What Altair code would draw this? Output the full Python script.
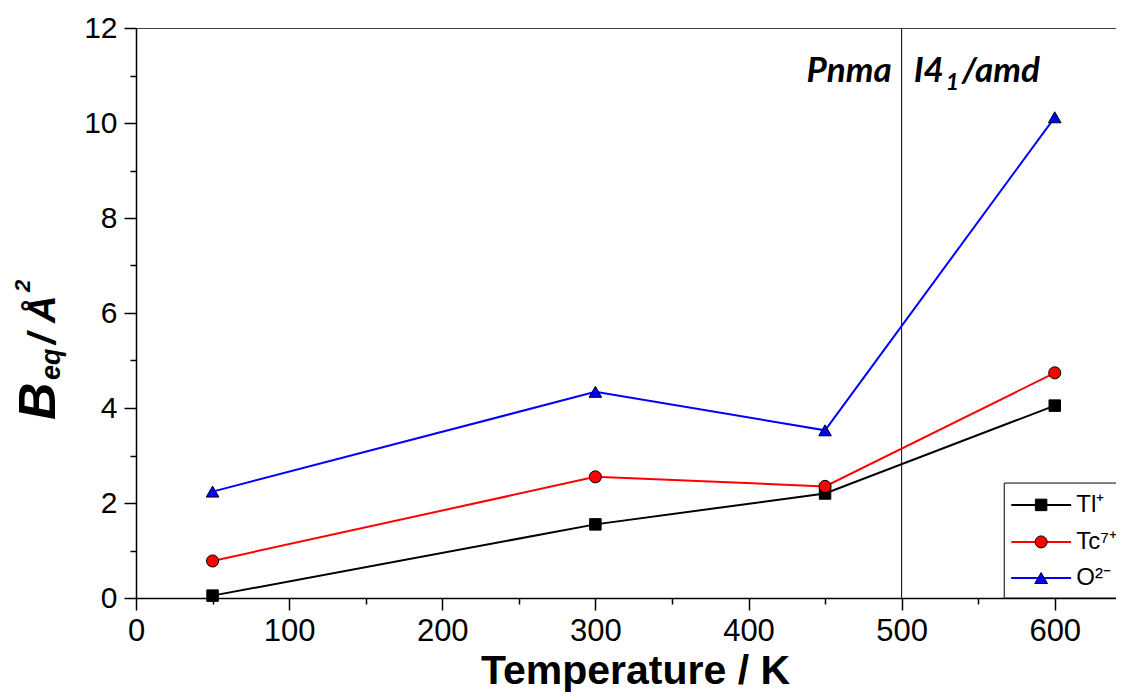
import altair as alt
import pandas as pd

# ---- data ----
temps = [50, 300, 450, 600]
tl_vals = [0.05, 1.55, 2.20, 4.05]
tc_vals = [0.78, 2.55, 2.35, 4.74]
o_vals = [2.24, 4.34, 3.53, 10.12]
series = ["Tl⁺", "Tc⁷⁺", "O²⁻"]
colors = ["#000000", "#ff0000", "#0000ff"]
shapes = ["square", "circle", "triangle-up"]
sizes = [132, 160, 250]

x_ticks = list(range(0, 601, 50))
y_ticks = list(range(0, 13))
phase_boundary = [500]
phase_left = ["Pnma"]
phase_right = ["I4", "1", "/amd"]
legend_rows = [1.96, 1.18, 0.42]
ytitle_parts = ["B", "eq", "/ Å", "2"]

# ---- tables ----
rows = []
for i, (s, vals) in enumerate(zip(series, [tl_vals, tc_vals, o_vals])):
    for t, v in zip(temps, vals):
        rows.append({"series": s, "T": t, "B": v, "idx": i})
df = pd.DataFrame(rows)

leg = pd.DataFrame({"series": series, "ly": legend_rows})
leg["x0"] = 571.6
leg["x1"] = 610.7
leg["xm"] = 591.1
leg["xt"] = 614.1

xs = alt.Scale(domain=[0, 640], nice=False, zero=False)
ys = alt.Scale(domain=[0, 12], nice=False)
cs = alt.Scale(domain=series, range=colors)

xaxis = alt.Axis(
    values=x_ticks,
    labelExpr="datum.value % 100 === 0 ? datum.label : ''",
    tickSize={"condition": {"test": "datum.value % 100 === 0", "value": 12}, "value": 6},
    title="Temperature / K",
    titleX=499, titleY=85, titleAlign="center", titleBaseline="alphabetic",
    titleFontSize=41, labelFontSize=31, labelPadding=6,
)
yaxis = alt.Axis(
    values=y_ticks,
    labelExpr="datum.value % 2 === 0 ? datum.label : ''",
    tickSize={"condition": {"test": "datum.value % 2 === 0", "value": 12}, "value": 6},
    title="",
    labelFontSize=30, labelPadding=7,
)

def X(field):
    return alt.X(field, type="quantitative", scale=xs, axis=xaxis)

def Y(field):
    return alt.Y(field, type="quantitative", scale=ys, axis=yaxis)

base = alt.Chart(df)

lines = base.mark_line(strokeWidth=2).encode(
    x=X("T"), y=Y("B"),
    color=alt.Color("series:N", scale=cs, legend=None),
    detail="idx:N",
)

points = base.mark_point(filled=True, stroke="black", strokeWidth=1, opacity=1, fillOpacity=1).encode(
    x=X("T"), y=Y("B"),
    fill=alt.Fill("series:N", scale=cs, legend=None),
    shape=alt.Shape("series:N", scale=alt.Scale(domain=series, range=shapes), legend=None),
    size=alt.Size("series:O", scale=alt.Scale(domain=series, range=sizes), legend=None),
    order=alt.Order("idx:Q"),
)

pb = pd.DataFrame({"x": phase_boundary})
vline = alt.Chart(pb).mark_rule(color="black", strokeWidth=1).encode(
    x=X("x"), y=alt.Y(datum=0, type="quantitative", scale=ys, axis=yaxis), y2=alt.datum(12)
)
topline = alt.Chart(pb).mark_rule(color="black", strokeWidth=1.5, clip=True).encode(
    x=alt.X(datum=0, type="quantitative", scale=xs, axis=xaxis), x2=alt.datum(700),
    y=alt.Y(datum=12, type="quantitative", scale=ys, axis=yaxis),
)

ann_left = alt.Chart(pd.DataFrame({"x": phase_boundary, "t": phase_left})).mark_text(
    font="Lato", fontSize=35, fontStyle="italic", fontWeight="bold", align="right",
    baseline="alphabetic", dx=-10, color="black",
).encode(x=X("x"), y=alt.Y(datum=10.86, type="quantitative", scale=ys, axis=yaxis), text="t:N")

ann_r = []
for txt, dx, dy, fs in zip(phase_right, [12, 44, 60], [0, 8, 0], [35, 23, 35]):
    ann_r.append(
        alt.Chart(pd.DataFrame({"x": phase_boundary, "t": [txt]})).mark_text(
            font="Lato", fontSize=fs, fontStyle="italic", fontWeight="bold", align="left",
            baseline="alphabetic", dx=dx, dy=dy, color="black",
        ).encode(x=X("x"), y=alt.Y(datum=10.86, type="quantitative", scale=ys, axis=yaxis), text="t:N")
    )

# legend box (clipped at the right edge like the reference)
legbox = alt.Chart(pb).mark_rect(fill="white", stroke="black", strokeWidth=1, clip=True).encode(
    x=alt.X(datum=567, type="quantitative", scale=xs, axis=xaxis), x2=alt.datum(700),
    y=alt.Y(datum=0, type="quantitative", scale=ys, axis=yaxis), y2=alt.datum(2.42),
)
legbase = alt.Chart(leg)
leglines = legbase.mark_rule(strokeWidth=2, clip=True).encode(
    x=X("x0"), x2="x1", y=Y("ly"),
    color=alt.Color("series:N", scale=cs, legend=None),
)
legpts = legbase.mark_point(filled=True, stroke="black", strokeWidth=1, opacity=1, fillOpacity=1, clip=True).encode(
    x=X("xm"), y=Y("ly"),
    fill=alt.Fill("series:N", scale=cs, legend=None),
    shape=alt.Shape("series:N", scale=alt.Scale(domain=series, range=shapes), legend=None),
    size=alt.Size("series:O", scale=alt.Scale(domain=series, range=sizes), legend=None),
)
legtext = legbase.mark_text(
    font="Liberation Sans", fontSize=24, align="left", baseline="middle", color="black", clip=True,
).encode(x=X("xt"), y=Y("ly"), text="series:N")

# y-axis title built from pieces (rotated)
yt_pos = [(-81, 392, 52), (-76, 352, 27), (-81, 316, 38), (-106, 264, 22)]
ytitle = []
for part, (px, py, fs) in zip(ytitle_parts, yt_pos):
    ytitle.append(
        alt.Chart(pd.DataFrame({"t": [part]})).mark_text(
            font="Liberation Sans", fontSize=fs, fontWeight="bold", fontStyle="italic",
            angle=270, align="left", baseline="alphabetic", color="black",
        ).encode(x=alt.value(px), y=alt.value(py), text="t:N")
    )

chart = alt.layer(
    vline, topline, lines, points, legbox, leglines, legpts, legtext, ann_left, *ann_r, *ytitle
).properties(
    width=980, height=570,
    autosize=alt.AutoSizeParams(type="none"),
    padding={"left": 128, "top": 20, "right": 0, "bottom": 94},
).configure_view(stroke=None).configure_axis(
    grid=False, domainColor="black", domainWidth=1.5, tickColor="black", tickWidth=1.5,
    labelFont="Liberation Sans", labelColor="black", titleFont="Liberation Sans",
    titleColor="black", titleFontWeight="bold", labelFlush=False, labelOverlap=False,
)

chart.save("out.html", embed_options={"renderer": "svg", "actions": False})
